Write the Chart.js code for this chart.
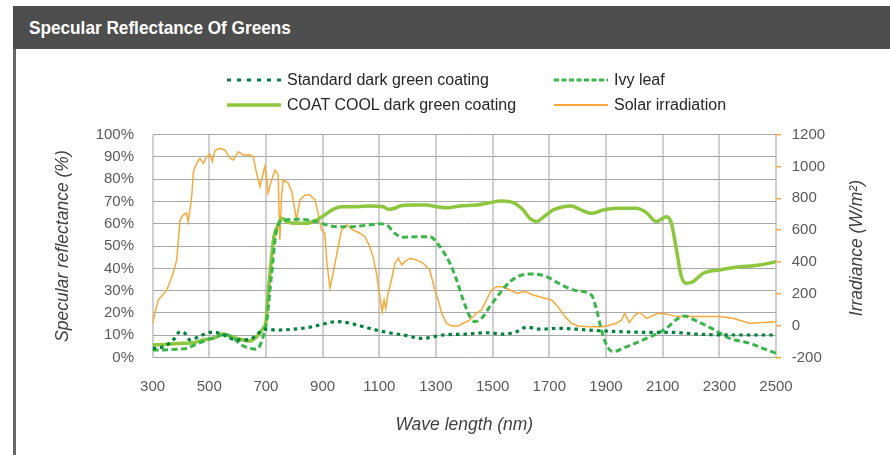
<!DOCTYPE html>
<html>
<head>
<meta charset="utf-8">
<script src="https://cdn.jsdelivr.net/npm/chart.js@4/dist/chart.umd.min.js"></script>
<style>
  html, body { margin: 0; padding: 0; background: #fff; }
  #wrap { position: relative; width: 890px; height: 455px; overflow: hidden;
          font-family: "Liberation Sans", Arial, sans-serif; }
  #head { position: absolute; left: 13px; top: 6px; right: 0; height: 43px; background: #4d4d4d; }
  #head span { position: absolute; left: 16px; top: 12px; color: #fff; font-weight: bold;
               font-size: 19px; line-height: 19px; white-space: nowrap;
               transform: scaleX(0.905); transform-origin: 0 50%; }
  #edge { position: absolute; left: 13px; top: 49px; width: 3px; bottom: 0; background: #666; }
  #chart { position: absolute; left: 0; top: 0; }
  .leg { position: absolute; height: 20px; display: flex; align-items: center;
         font-size: 16px; line-height: 20px; color: #262626; white-space: nowrap; }
  .leg svg { width: 54px; height: 8px; margin-right: 6px; flex: none; }
</style>
</head>
<body>
<div id="wrap">
  <canvas id="chart" width="890" height="455"></canvas>
  <div id="head"><span>Specular Reflectance Of Greens</span></div>
  <div id="edge"></div>

  <div class="leg" style="left:227px;top:70px">
    <svg viewBox="0 0 54 8"><line x1="0" y1="4" x2="54" y2="4" stroke="#00843d" stroke-width="3" stroke-dasharray="4 6"/></svg>Standard dark green coating
  </div>
  <div class="leg" style="left:227px;top:95px">
    <svg viewBox="0 0 54 8"><line x1="0" y1="4" x2="54" y2="4" stroke="#8dc63f" stroke-width="3.5"/></svg>COAT COOL dark green coating
  </div>
  <div class="leg" style="left:554px;top:70px">
    <svg viewBox="0 0 54 8"><line x1="0" y1="4" x2="54" y2="4" stroke="#3ab54a" stroke-width="3" stroke-dasharray="5 2.5"/></svg>Ivy leaf
  </div>
  <div class="leg" style="left:554px;top:95px">
    <svg viewBox="0 0 54 8"><line x1="0" y1="4" x2="54" y2="4" stroke="#f9a93b" stroke-width="2"/></svg>Solar irradiation
  </div>
</div>

<script>
// Wavelength axis ticks (nm) and value axes
const waveTicks = { min: 300, max: 2500, step: 200 };
const reflTicks = { min: 0, max: 100, step: 10 };
const irrTicks = { min: -200, max: 1200, step: 200 };

// Standard dark green coating: specular reflectance (%)
const stdWave = [300, 338, 373, 397, 414, 432, 467, 502, 538, 573, 608, 644, 673, 696, 738, 796, 855, 902, 949, 996,
  1064, 1114, 1184, 1255, 1325, 1408, 1478, 1537, 1584, 1620, 1667, 1725, 1796, 1878, 1949, 2043, 2137, 2219, 2337, 2500];
const stdRefl = [4.1, 4.8, 7.9, 11.6, 10.9, 7.9, 9.6, 11.3, 10.9, 8.6, 7.9, 8.2, 10.9, 12.7, 12.3, 12.7, 13.6, 15, 16.1, 15.4,
  13.1, 11.6, 10.1, 8.6, 10.1, 10.5, 11.1, 10.5, 11.6, 13.6, 12.7, 13.1, 12.7, 12, 11.6, 11.3, 11.3, 10.5, 10.1, 10.1];

// Ivy leaf: specular reflectance (%)
const ivyWave = [300, 338, 385, 420, 456, 491, 526, 555, 585, 614, 644, 667, 690, 705, 714, 724, 732, 743, 761, 820,
  879, 914, 949, 996, 1064, 1102, 1126, 1155, 1184, 1231, 1278, 1314, 1349, 1373, 1396, 1420, 1437, 1461, 1490, 1525,
  1561, 1596, 1643, 1690, 1737, 1796, 1849, 1867, 1884, 1902, 1925, 1972, 2043, 2113, 2149, 2178, 2213, 2278, 2337, 2407,
  2454, 2500];
const ivyRefl = [3.4, 3.4, 3.7, 4.1, 6.1, 7.9, 9.3, 10.5, 8.6, 5.6, 4.1, 3.7, 9.3, 18.3, 30.3, 42.3, 52.7, 59.5, 61.7, 62,
  61, 59.5, 58.7, 58.7, 59.5, 60, 59.5, 55.7, 54, 54.2, 54.2, 49.7, 42.3, 34.8, 25.8, 18.3, 16.1, 17.6, 22.8, 28.8,
  34, 36.7, 37.5, 36.3, 33, 30, 28, 21.3, 12.3, 5.6, 2.6, 4.8, 8.6, 13.1, 17.1, 18.6, 16.8, 12.7, 8.6, 6.4,
  4.1, 1.9];

// COAT COOL dark green coating: specular reflectance (%)
const coolWave = [300, 350, 408, 444, 479, 514, 549, 573, 608, 644, 667, 690, 700, 705, 712, 720, 728, 743, 755, 773,
  808, 844, 879, 908, 937, 967, 1020, 1067, 1114, 1131, 1155, 1173, 1220, 1267, 1302, 1343, 1384, 1443, 1490, 1531,
  1572, 1608, 1631, 1655, 1678, 1713, 1749, 1778, 1808, 1849, 1890, 1937, 2008, 2043, 2078, 2114, 2131, 2149, 2166, 2184,
  2207, 2243, 2301, 2360, 2442, 2500];
const coolRefl = [5.6, 5.9, 6.4, 6.6, 7.9, 8.6, 10.5, 9.6, 8.2, 7.4, 9.3, 13.1, 16.1, 24.3, 34.8, 45.2, 54.2, 59.5, 62.5, 61,
  60.2, 60.2, 61.7, 64, 66.5, 67.7, 67.7, 68, 67.7, 66.5, 67, 68, 68.4, 68.4, 67.7, 67.2, 68, 68.4, 69.5, 70.2,
  69.5, 66.2, 62.5, 61, 62.9, 66.2, 67.7, 68, 66.5, 64.7, 66.2, 67, 67, 65, 61, 63.2, 60.2, 48.2, 36.3, 33.3,
  34, 37.8, 39.3, 40.5, 41.5, 43];

// Solar irradiation (W/m²)
const solarWave = [300, 308, 320, 350, 373, 385, 397, 408, 420, 426, 438, 444, 455, 467, 479, 491, 502, 511, 520, 538,
  555, 573, 585, 602, 620, 644, 655, 667, 679, 690, 696, 702, 708, 720, 732, 743, 749, 755, 761, 779,
  791, 808, 820, 838, 855, 873, 884, 896, 908, 914, 926, 937, 955, 967, 985, 1008, 1032, 1049, 1064, 1078,
  1090, 1102, 1110, 1117, 1123, 1131, 1143, 1155, 1167, 1179, 1190, 1208, 1231, 1255, 1278, 1296, 1308, 1320, 1337, 1355,
  1378, 1396, 1420, 1443, 1461, 1478, 1496, 1514, 1537, 1561, 1584, 1614, 1643, 1678, 1708, 1731, 1755, 1778, 1802, 1843,
  1890, 1937, 1955, 1966, 1982, 2002, 2019, 2043, 2084, 2113, 2149, 2207, 2301, 2348, 2407, 2500];
const solarIrr = [10, 78, 161, 224, 331, 412, 664, 696, 708, 653, 810, 968, 1020, 1052, 1020, 1062, 1079, 1031, 1100, 1114,
  1104, 1052, 1041, 1093, 1073, 1073, 1062, 958, 873, 958, 999, 936, 832, 916, 978, 947, 539, 811, 916, 895,
  842, 664, 790, 821, 821, 790, 706, 601, 581, 413, 235, 329, 496, 601, 633, 601, 581, 559, 507, 434,
  329, 182, 88, 162, 109, 204, 287, 392, 424, 381, 402, 424, 413, 392, 350, 224, 162, 78, 15, -2,
  -2, 15, 36, 78, 99, 162, 224, 245, 245, 224, 204, 214, 193, 176, 162, 119, 57, 15, -2, -6,
  -6, 15, 36, 78, 19, 67, 84, 46, 78, 74, 57, 57, 57, 46, 15, 25];

const pairs = (xs, ys) => xs.map((x, i) => ({ x, y: ys[i] }));

const FONT = '"Liberation Sans", Arial, sans-serif';
const TICK_COLOR = '#595959';
const TITLE_COLOR = '#404040';

// Right-hand axis title, read bottom-to-top like the left one
const rightTitle = {
  id: 'rightTitle',
  afterDraw(chart) {
    const { ctx, chartArea } = chart;
    ctx.save();
    ctx.translate(857.5, (chartArea.top + chartArea.bottom) / 2 + 2);
    ctx.rotate(-Math.PI / 2);
    ctx.font = 'italic 17.5px ' + FONT;
    ctx.fillStyle = TITLE_COLOR;
    ctx.textAlign = 'center';
    ctx.textBaseline = 'middle';
    ctx.fillText('Irradiance (W/m²)', 0, 0);
    ctx.restore();
  }
};

new Chart(document.getElementById('chart'), {
  type: 'line',
  data: {
    datasets: [
      {
        label: 'Standard dark green coating',
        data: pairs(stdWave, stdRefl),
        yAxisID: 'y',
        borderColor: '#00843d',
        borderWidth: 3.2,
        borderDash: [3.5, 4],
        cubicInterpolationMode: 'monotone'
      },
      {
        label: 'Ivy leaf',
        data: pairs(ivyWave, ivyRefl),
        yAxisID: 'y',
        borderColor: '#3ab54a',
        borderWidth: 3,
        borderDash: [6, 3.5],
        cubicInterpolationMode: 'monotone'
      },
      {
        label: 'COAT COOL dark green coating',
        data: pairs(coolWave, coolRefl),
        yAxisID: 'y',
        borderColor: '#8dc63f',
        borderWidth: 3.5,
        cubicInterpolationMode: 'monotone'
      },
      {
        label: 'Solar irradiation',
        data: pairs(solarWave, solarIrr),
        yAxisID: 'y1',
        borderColor: '#f9a93b',
        borderWidth: 1.5,
        tension: 0
      }
    ]
  },
  options: {
    responsive: false,
    animation: false,
    devicePixelRatio: 1,
    layout: { padding: { top: 134.7, left: 0, right: 0, bottom: 0 } },
    elements: { point: { radius: 0 } },
    plugins: { legend: { display: false }, tooltip: { enabled: false } },
    scales: {
      x: {
        type: 'linear',
        min: waveTicks.min,
        max: waveTicks.max,
        afterFit: s => { s.height = 97.5; },
        ticks: { stepSize: waveTicks.step, autoSkip: false, maxRotation: 0, padding: 20,
                 color: TICK_COLOR, font: { family: FONT, size: 15 }, callback: v => String(v) },
        grid: { color: '#cfcfcf', lineWidth: 2, drawTicks: false },
        border: { display: false },
        title: { display: true, text: 'Wave length (nm)', color: TITLE_COLOR,
                 font: { family: FONT, size: 17.5, style: 'italic' }, padding: { top: 0, bottom: 19.5 } }
      },
      y: {
        position: 'left',
        min: reflTicks.min,
        max: reflTicks.max,
        afterFit: s => { s.width = 152.6; },
        ticks: { stepSize: reflTicks.step, autoSkip: false, padding: 18.6, color: TICK_COLOR,
                 font: { family: FONT, size: 15 }, callback: v => v + '%' },
        grid: { color: '#a8a8a8', lineWidth: 1, drawTicks: false },
        border: { display: false },
        title: { display: true, text: 'Specular reflectance (%)', color: TITLE_COLOR,
                 font: { family: FONT, size: 17.5, style: 'italic' }, padding: { top: 52.3, bottom: 0 } }
      },
      y1: {
        position: 'right',
        min: irrTicks.min,
        max: irrTicks.max,
        afterFit: s => { s.width = 114; },
        ticks: { stepSize: irrTicks.step, autoSkip: false, padding: 10.7, color: TICK_COLOR,
                 font: { family: FONT, size: 15 }, callback: v => String(v) },
        grid: { drawOnChartArea: false, drawTicks: true, tickLength: 5, color: '#f9a93b', lineWidth: 1.5 },
        border: { display: false }
      }
    }
  },
  plugins: [rightTitle]
});
</script>
</body>
</html>
